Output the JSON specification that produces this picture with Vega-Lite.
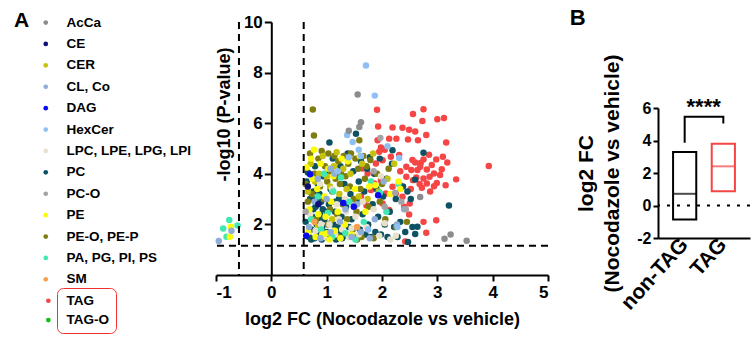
{
  "$schema": "https://vega.github.io/schema/vega-lite/v6.json",
  "padding": {"left": 14, "top": 7, "right": 2, "bottom": 2},
  "config": {
    "view": {"stroke": null},
    "font": "Liberation Sans",
    "axis": {"grid": false, "domainColor": "black", "domainWidth": 2, "tickColor": "black", "tickWidth": 2, "labelColor": "black", "titleColor": "black", "labelFont": "Liberation Sans", "titleFont": "Liberation Sans", "labelFontWeight": "bold", "titleFontWeight": "bold", "labelOverlap": false},
    "axisY": {"labelOverlap": false}
  },
  "datasets": {
    "lipids": [
      {"c":"TAG","x":1.91,"y":6.53},{"c":"TAG","x":2.56,"y":6.36},{"c":"TAG","x":2.75,"y":6.55},{"c":"TAG","x":2.73,"y":6.09},{"c":"TAG","x":3.0,"y":6.16},{"c":"TAG","x":3.12,"y":6.21},{"c":"TAG","x":1.93,"y":5.87},{"c":"TAG","x":2.19,"y":5.83},{"c":"TAG","x":2.37,"y":5.82},{"c":"TAG","x":2.49,"y":5.74},{"c":"TAG","x":2.6,"y":5.67},{"c":"TAG","x":2.8,"y":5.53},{"c":"TAG","x":3.16,"y":5.24},{"c":"TAG","x":2.26,"y":5.39},{"c":"TAG","x":2.47,"y":5.36},{"c":"TAG","x":1.92,"y":5.33},{"c":"TAG","x":2.13,"y":5.39},{"c":"TAG","x":2.65,"y":5.33},{"c":"TAG","x":1.98,"y":5.04},{"c":"TAG","x":1.95,"y":4.87},
      {"c":"TAG","x":3.1,"y":4.67},{"c":"TAG","x":2.98,"y":4.57},{"c":"TAG","x":2.75,"y":4.57},{"c":"TAG","x":2.7,"y":4.43},{"c":"TAG","x":2.6,"y":4.45},{"c":"TAG","x":2.64,"y":4.15},{"c":"TAG","x":2.81,"y":4.17},{"c":"TAG","x":2.86,"y":3.88},{"c":"TAG","x":2.94,"y":4.01},{"c":"TAG","x":3.08,"y":4.18},{"c":"TAG","x":2.99,"y":3.64},{"c":"TAG","x":2.94,"y":3.51},{"c":"TAG","x":2.72,"y":3.45},{"c":"TAG","x":2.81,"y":3.62},{"c":"TAG","x":2.62,"y":3.85},{"c":"TAG","x":2.75,"y":3.81},{"c":"TAG","x":2.69,"y":4.28},{"c":"TAG","x":3.93,"y":4.31},{"c":"TAG","x":3.34,"y":3.78},{"c":"TAG","x":2.98,"y":2.16},{"c":"TAG","x":2.75,"y":2.1},{"c":"TAG","x":2.8,"y":1.67},{"c":"TAG","x":2.42,"y":1.32},{"c":"TAG","x":2.49,"y":2.39},
      {"c":"TAG","x":1.89,"y":4.41},{"c":"TAG","x":2.01,"y":4.54},{"c":"TAG","x":2.16,"y":4.67},{"c":"TAG","x":2.31,"y":4.74},{"c":"TAG","x":2.44,"y":4.28},{"c":"TAG","x":2.53,"y":4.15},{"c":"TAG","x":2.44,"y":3.88},{"c":"TAG","x":2.56,"y":3.75},{"c":"TAG","x":2.31,"y":3.62},{"c":"TAG","x":2.19,"y":3.49},{"c":"TAG","x":2.07,"y":3.22},{"c":"TAG","x":2.25,"y":3.22},{"c":"TAG","x":2.37,"y":3.09},{"c":"TAG","x":2.5,"y":2.83},{"c":"TAG","x":2.01,"y":2.83},{"c":"TAG","x":2.13,"y":2.57},{"c":"TAG","x":1.86,"y":3.62},{"c":"TAG","x":1.8,"y":3.36},{"c":"TAG","x":1.98,"y":3.75},{"c":"TAG","x":1.74,"y":4.01},{"c":"TAG","x":1.65,"y":4.21},{"c":"TAG","x":2.05,"y":4.95},{"c":"TAG","x":2.33,"y":4.1},{"c":"TAG","x":2.9,"y":4.35},{"c":"TAG","x":3.05,"y":3.95},{"c":"TAG","x":2.68,"y":3.6},{"c":"TAG","x":2.52,"y":3.4},{"c":"TAG","x":2.87,"y":3.3},{"c":"TAG","x":1.62,"y":3.1},{"c":"TAG","x":1.72,"y":2.75},{"c":"TAG","x":2.4,"y":2.7},{"c":"TAG","x":2.55,"y":4.55},{"c":"TAG","x":2.85,"y":4.75},{"c":"TAG","x":3.18,"y":4.45},{"c":"TAG","x":3.15,"y":3.55},
      {"c":"PC","x":0.62,"y":2.1},{"c":"PC","x":0.65,"y":2.5},{"c":"PC","x":0.68,"y":1.5},{"c":"PC","x":0.7,"y":3.0},{"c":"PC","x":0.72,"y":1.8},{"c":"PC","x":0.74,"y":2.3},{"c":"PC","x":0.76,"y":3.3},{"c":"PC","x":0.78,"y":1.45},{"c":"PC","x":0.8,"y":2.7},{"c":"PC","x":0.82,"y":2.0},{"c":"PC","x":0.84,"y":3.6},{"c":"PC","x":0.86,"y":1.6},{"c":"PC","x":0.88,"y":2.4},{"c":"PC","x":0.9,"y":2.9},{"c":"PC","x":0.92,"y":1.9},{"c":"PC","x":0.94,"y":3.9},{"c":"PC","x":0.96,"y":2.2},{"c":"PC","x":0.98,"y":1.5},{"c":"PC","x":0.64,"y":3.7},{"c":"PC","x":0.66,"y":4.05},{"c":"PC","x":0.79,"y":4.3},{"c":"PC","x":0.87,"y":3.2},{"c":"PC","x":0.93,"y":2.6},{"c":"PC","x":0.99,"y":4.0},
      {"c":"PC","x":1.02,"y":1.7},{"c":"PC","x":1.04,"y":2.8},{"c":"PC","x":1.05,"y":5.24},{"c":"PC","x":1.07,"y":3.4},{"c":"PC","x":1.09,"y":2.1},{"c":"PC","x":1.11,"y":4.6},{"c":"PC","x":1.13,"y":1.5},{"c":"PC","x":1.15,"y":2.5},{"c":"PC","x":1.18,"y":3.9},{"c":"PC","x":1.2,"y":1.9},{"c":"PC","x":1.22,"y":3.0},{"c":"PC","x":1.25,"y":4.3},{"c":"PC","x":1.27,"y":2.3},{"c":"PC","x":1.3,"y":1.6},{"c":"PC","x":1.32,"y":3.6},{"c":"PC","x":1.35,"y":2.7},{"c":"PC","x":1.38,"y":4.8},{"c":"PC","x":1.4,"y":1.9},{"c":"PC","x":1.43,"y":3.2},{"c":"PC","x":1.45,"y":2.2},{"c":"PC","x":1.48,"y":4.1},{"c":"PC","x":1.5,"y":1.5},{"c":"PC","x":1.53,"y":5.58},{"c":"PC","x":1.55,"y":2.9},{"c":"PC","x":1.58,"y":3.7},{"c":"PC","x":1.6,"y":1.8},{"c":"PC","x":1.12,"y":2.0},{"c":"PC","x":1.17,"y":1.4},{"c":"PC","x":1.28,"y":1.45},{"c":"PC","x":1.36,"y":1.55},
      {"c":"PC","x":1.62,"y":4.5},{"c":"PC","x":1.65,"y":2.4},{"c":"PC","x":1.68,"y":3.3},{"c":"PC","x":1.7,"y":1.6},{"c":"PC","x":1.73,"y":4.2},{"c":"PC","x":1.75,"y":2.0},{"c":"PC","x":1.78,"y":4.65},{"c":"PC","x":1.8,"y":1.5},{"c":"PC","x":1.83,"y":2.8},{"c":"PC","x":1.86,"y":4.0},{"c":"PC","x":1.88,"y":1.7},{"c":"PC","x":1.9,"y":3.4},{"c":"PC","x":1.93,"y":2.3},{"c":"PC","x":1.96,"y":4.6},{"c":"PC","x":1.98,"y":1.6},{"c":"PC","x":2.02,"y":3.1},{"c":"PC","x":2.05,"y":2.0},{"c":"PC","x":2.08,"y":3.8},{"c":"PC","x":2.1,"y":1.5},{"c":"PC","x":2.14,"y":2.5},{"c":"PC","x":2.18,"y":4.4},{"c":"PC","x":2.19,"y":4.93},{"c":"PC","x":2.22,"y":1.9},{"c":"PC","x":2.25,"y":3.0},{"c":"PC","x":2.28,"y":1.5},
      {"c":"PC","x":2.33,"y":2.1},{"c":"PC","x":2.38,"y":3.5},{"c":"PC","x":2.42,"y":1.7},{"c":"PC","x":2.47,"y":1.3},{"c":"PC","x":2.52,"y":3.0},{"c":"PC","x":2.55,"y":1.9},{"c":"PC","x":2.6,"y":1.62},{"c":"PC","x":2.64,"y":1.91},{"c":"PC","x":2.6,"y":3.77},{"c":"PC","x":2.75,"y":4.83},{"c":"PC","x":3.21,"y":2.75},{"c":"PC","x":2.46,"y":3.3},
      {"c":"PC","x":0.72,"y":1.4},{"c":"PC","x":0.95,"y":1.7},{"c":"PC","x":1.0,"y":2.5},{"c":"PC","x":0.85,"y":2.25},{"c":"PC","x":0.76,"y":2.6},{"c":"PC","x":1.06,"y":1.55},{"c":"PC","x":1.24,"y":1.75},{"c":"PC","x":0.91,"y":1.4},{"c":"PC","x":1.15,"y":2.9},{"c":"PC","x":0.81,"y":3.0},
      {"c":"PE-O, PE-P","x":0.75,"y":6.54},{"c":"PE-O, PE-P","x":0.77,"y":5.51},{"c":"PE-O, PE-P","x":0.62,"y":3.6},{"c":"PE-O, PE-P","x":0.66,"y":2.9},{"c":"PE-O, PE-P","x":0.7,"y":4.8},{"c":"PE-O, PE-P","x":0.73,"y":3.2},{"c":"PE-O, PE-P","x":0.78,"y":4.0},{"c":"PE-O, PE-P","x":0.81,"y":2.2},{"c":"PE-O, PE-P","x":0.85,"y":4.6},{"c":"PE-O, PE-P","x":0.88,"y":3.5},{"c":"PE-O, PE-P","x":0.91,"y":4.9},{"c":"PE-O, PE-P","x":0.95,"y":3.0},{"c":"PE-O, PE-P","x":0.97,"y":4.3},{"c":"PE-O, PE-P","x":1.01,"y":3.7},{"c":"PE-O, PE-P","x":1.03,"y":4.8},{"c":"PE-O, PE-P","x":1.06,"y":2.6},{"c":"PE-O, PE-P","x":1.08,"y":4.1},{"c":"PE-O, PE-P","x":1.1,"y":3.3},{"c":"PE-O, PE-P","x":1.14,"y":4.7},{"c":"PE-O, PE-P","x":1.16,"y":3.8},{"c":"PE-O, PE-P","x":1.19,"y":2.4},{"c":"PE-O, PE-P","x":1.21,"y":4.5},{"c":"PE-O, PE-P","x":1.24,"y":3.6},{"c":"PE-O, PE-P","x":1.26,"y":4.0},{"c":"PE-O, PE-P","x":1.29,"y":2.8},{"c":"PE-O, PE-P","x":1.31,"y":4.7},{"c":"PE-O, PE-P","x":1.34,"y":3.9},{"c":"PE-O, PE-P","x":1.37,"y":2.2},{"c":"PE-O, PE-P","x":1.39,"y":4.4},{"c":"PE-O, PE-P","x":1.42,"y":3.5},{"c":"PE-O, PE-P","x":1.44,"y":4.8},{"c":"PE-O, PE-P","x":1.47,"y":1.8},{"c":"PE-O, PE-P","x":1.49,"y":3.0},{"c":"PE-O, PE-P","x":1.52,"y":4.6},{"c":"PE-O, PE-P","x":1.54,"y":2.5},{"c":"PE-O, PE-P","x":1.57,"y":4.2},{"c":"PE-O, PE-P","x":1.59,"y":5.33},{"c":"PE-O, PE-P","x":1.61,"y":3.4},{"c":"PE-O, PE-P","x":1.63,"y":1.5},{"c":"PE-O, PE-P","x":1.66,"y":4.7},{"c":"PE-O, PE-P","x":1.69,"y":3.8},{"c":"PE-O, PE-P","x":1.72,"y":4.3},{"c":"PE-O, PE-P","x":1.76,"y":2.7},{"c":"PE-O, PE-P","x":1.79,"y":4.55},{"c":"PE-O, PE-P","x":1.85,"y":1.45},{"c":"PE-O, PE-P","x":1.91,"y":4.0},{"c":"PE-O, PE-P","x":1.96,"y":2.9},{"c":"PE-O, PE-P","x":2.0,"y":3.6},{"c":"PE-O, PE-P","x":2.06,"y":2.2},{"c":"PE-O, PE-P","x":2.12,"y":4.2},{"c":"PE-O, PE-P","x":2.25,"y":1.9},{"c":"PE-O, PE-P","x":2.45,"y":2.1},{"c":"PE-O, PE-P","x":1.55,"y":1.4},{"c":"PE-O, PE-P","x":1.23,"y":1.5},{"c":"PE-O, PE-P","x":1.02,"y":2.0},
      {"c":"CER","x":0.66,"y":3.3},{"c":"CER","x":0.71,"y":4.4},{"c":"CER","x":0.79,"y":3.7},{"c":"CER","x":0.86,"y":4.0},{"c":"CER","x":0.93,"y":4.7},{"c":"CER","x":1.0,"y":3.9},{"c":"CER","x":1.06,"y":3.5},{"c":"CER","x":1.13,"y":4.3},{"c":"CER","x":1.18,"y":4.85},{"c":"CER","x":1.23,"y":3.2},{"c":"CER","x":1.3,"y":4.2},{"c":"CER","x":1.36,"y":3.4},{"c":"CER","x":1.43,"y":4.0},{"c":"CER","x":1.5,"y":2.7},{"c":"CER","x":1.58,"y":3.1},{"c":"CER","x":1.64,"y":4.4},{"c":"CER","x":1.74,"y":3.0},{"c":"CER","x":1.84,"y":4.8},{"c":"CER","x":1.94,"y":3.3},{"c":"CER","x":2.1,"y":3.8},{"c":"CER","x":2.22,"y":4.4},{"c":"CER","x":1.1,"y":2.2},{"c":"CER","x":0.84,"y":1.9},
      {"c":"LPC, LPE, LPG, LPI","x":0.7,"y":2.4},{"c":"LPC, LPE, LPG, LPI","x":0.8,"y":1.75},{"c":"LPC, LPE, LPG, LPI","x":0.88,"y":3.6},{"c":"LPC, LPE, LPG, LPI","x":0.95,"y":1.5},{"c":"LPC, LPE, LPG, LPI","x":1.05,"y":2.0},{"c":"LPC, LPE, LPG, LPI","x":1.1,"y":3.4},{"c":"LPC, LPE, LPG, LPI","x":1.15,"y":1.6},{"c":"LPC, LPE, LPG, LPI","x":1.22,"y":2.2},{"c":"LPC, LPE, LPG, LPI","x":1.28,"y":1.8},{"c":"LPC, LPE, LPG, LPI","x":1.33,"y":3.0},{"c":"LPC, LPE, LPG, LPI","x":1.4,"y":1.5},{"c":"LPC, LPE, LPG, LPI","x":1.45,"y":1.85},{"c":"LPC, LPE, LPG, LPI","x":1.52,"y":2.3},{"c":"LPC, LPE, LPG, LPI","x":1.58,"y":1.6},{"c":"LPC, LPE, LPG, LPI","x":1.65,"y":2.9},{"c":"LPC, LPE, LPG, LPI","x":1.72,"y":1.9},{"c":"LPC, LPE, LPG, LPI","x":1.85,"y":2.6},{"c":"LPC, LPE, LPG, LPI","x":1.95,"y":1.55},{"c":"LPC, LPE, LPG, LPI","x":2.05,"y":2.05},{"c":"LPC, LPE, LPG, LPI","x":2.15,"y":1.4},{"c":"LPC, LPE, LPG, LPI","x":2.25,"y":1.55},{"c":"LPC, LPE, LPG, LPI","x":1.98,"y":3.9},{"c":"LPC, LPE, LPG, LPI","x":1.18,"y":2.8},{"c":"LPC, LPE, LPG, LPI","x":1.35,"y":2.5},{"c":"LPC, LPE, LPG, LPI","x":0.9,"y":2.0},
      {"c":"PA, PG, PI, PS","x":-0.76,"y":2.17},{"c":"PA, PG, PI, PS","x":-0.87,"y":1.84},{"c":"PA, PG, PI, PS","x":-0.61,"y":1.96},{"c":"PA, PG, PI, PS","x":-0.81,"y":1.51},{"c":"PA, PG, PI, PS","x":0.72,"y":2.2},{"c":"PA, PG, PI, PS","x":0.84,"y":3.1},{"c":"PA, PG, PI, PS","x":0.9,"y":1.8},{"c":"PA, PG, PI, PS","x":1.02,"y":2.45},{"c":"PA, PG, PI, PS","x":1.1,"y":1.5},{"c":"PA, PG, PI, PS","x":1.26,"y":3.85},{"c":"PA, PG, PI, PS","x":1.34,"y":1.65},{"c":"PA, PG, PI, PS","x":1.41,"y":2.9},{"c":"PA, PG, PI, PS","x":1.52,"y":1.4},{"c":"PA, PG, PI, PS","x":1.67,"y":2.1},{"c":"PA, PG, PI, PS","x":1.8,"y":3.7},{"c":"PA, PG, PI, PS","x":1.96,"y":3.25},{"c":"PA, PG, PI, PS","x":2.08,"y":2.5},{"c":"PA, PG, PI, PS","x":2.3,"y":3.6},{"c":"PA, PG, PI, PS","x":1.12,"y":3.3},{"c":"PA, PG, PI, PS","x":0.95,"y":4.0},
      {"c":"PE","x":-0.73,"y":1.91},{"c":"PE","x":-0.75,"y":1.51},{"c":"PE","x":0.64,"y":4.25},{"c":"PE","x":0.67,"y":1.7},{"c":"PE","x":0.69,"y":2.6},{"c":"PE","x":0.72,"y":4.6},{"c":"PE","x":0.74,"y":3.8},{"c":"PE","x":0.77,"y":4.95},{"c":"PE","x":0.8,"y":1.5},{"c":"PE","x":0.83,"y":3.4},{"c":"PE","x":0.85,"y":2.4},{"c":"PE","x":0.89,"y":4.4},{"c":"PE","x":0.92,"y":1.6},{"c":"PE","x":0.96,"y":3.1},{"c":"PE","x":1.0,"y":1.65},{"c":"PE","x":1.03,"y":4.2},{"c":"PE","x":1.05,"y":1.4},{"c":"PE","x":1.08,"y":2.9},{"c":"PE","x":1.12,"y":3.9},{"c":"PE","x":1.15,"y":1.75},{"c":"PE","x":1.2,"y":2.5},{"c":"PE","x":1.27,"y":4.6},{"c":"PE","x":1.33,"y":2.0},{"c":"PE","x":1.38,"y":4.5},{"c":"PE","x":1.45,"y":1.6},{"c":"PE","x":1.51,"y":3.4},{"c":"PE","x":1.6,"y":4.7},{"c":"PE","x":1.7,"y":2.5},{"c":"PE","x":1.77,"y":3.5},{"c":"PE","x":1.88,"y":3.55},{"c":"PE","x":2.15,"y":3.2},{"c":"PE","x":2.3,"y":3.7},{"c":"PE","x":2.33,"y":3.4},{"c":"PE","x":1.25,"y":1.45},{"c":"PE","x":0.98,"y":2.3},
      {"c":"CL, Co","x":-0.95,"y":1.34},{"c":"CL, Co","x":-0.72,"y":1.75},{"c":"CL, Co","x":0.68,"y":1.9},{"c":"CL, Co","x":0.78,"y":2.9},{"c":"CL, Co","x":0.89,"y":1.45},{"c":"CL, Co","x":1.0,"y":3.0},{"c":"CL, Co","x":1.07,"y":1.7},{"c":"CL, Co","x":1.14,"y":4.0},{"c":"CL, Co","x":1.24,"y":2.1},{"c":"CL, Co","x":1.34,"y":2.6},{"c":"CL, Co","x":1.45,"y":1.5},{"c":"CL, Co","x":1.55,"y":2.8},{"c":"CL, Co","x":1.62,"y":1.7},{"c":"CL, Co","x":1.78,"y":1.45},{"c":"CL, Co","x":1.87,"y":2.2},{"c":"CL, Co","x":2.03,"y":3.7},{"c":"CL, Co","x":2.27,"y":2.0},{"c":"CL, Co","x":2.4,"y":2.6},{"c":"CL, Co","x":1.07,"y":4.2},{"c":"CL, Co","x":0.84,"y":3.8},
      {"c":"HexCer","x":1.71,"y":8.28},{"c":"HexCer","x":1.87,"y":7.09},{"c":"HexCer","x":1.37,"y":5.53},{"c":"HexCer","x":1.47,"y":5.26},{"c":"HexCer","x":2.1,"y":5.09},{"c":"HexCer","x":1.58,"y":4.95},{"c":"HexCer","x":2.31,"y":4.62},{"c":"HexCer","x":1.2,"y":4.1},{"c":"HexCer","x":1.62,"y":4.7},{"c":"HexCer","x":2.28,"y":1.9},{"c":"HexCer","x":1.4,"y":4.65},{"c":"HexCer","x":1.75,"y":1.8},
      {"c":"AcCa","x":1.56,"y":7.13},{"c":"AcCa","x":1.4,"y":5.7},{"c":"AcCa","x":3.13,"y":1.43},{"c":"AcCa","x":3.24,"y":1.6},{"c":"AcCa","x":3.53,"y":1.35},{"c":"AcCa","x":2.69,"y":3.08},{"c":"AcCa","x":1.62,"y":6.04},{"c":"AcCa","x":1.59,"y":5.85},
      {"c":"PC-O","x":2.24,"y":3.25},{"c":"PC-O","x":0.62,"y":2.5},{"c":"PC-O","x":1.85,"y":4.1},{"c":"PC-O","x":2.05,"y":2.7},{"c":"PC-O","x":1.5,"y":2.75},{"c":"PC-O","x":2.35,"y":2.9},{"c":"PC-O","x":1.97,"y":5.42},{"c":"PC-O","x":2.43,"y":2.6},
      {"c":"DAG","x":0.7,"y":3.98},{"c":"DAG","x":0.63,"y":1.55},{"c":"DAG","x":1.93,"y":3.15},{"c":"DAG","x":1.49,"y":2.7},{"c":"DAG","x":1.3,"y":2.85},
      {"c":"CE","x":0.66,"y":3.5},{"c":"CE","x":0.85,"y":2.8},
      {"c":"SM","x":0.78,"y":2.1},{"c":"SM","x":1.55,"y":1.9}
    ],
    "summary": [
      {"group":"non-TAG","low":-0.86,"high":3.29,"mid":0.72},
      {"group":"TAG","low":0.88,"high":3.8,"mid":2.41}
    ],
    "bracket": [
      {"group":"non-TAG","v":3.86,"o":1},
      {"group":"non-TAG","v":5.46,"o":2},
      {"group":"TAG","v":5.46,"o":3},
      {"group":"TAG","v":5.05,"o":4}
    ]
  },
  "spacing": 20,
  "hconcat": [
    {
      "width": 332,
      "height": 253,
      "layer": [
        {
          "data": {"name": "lipids"},
          "transform": [{"filter": "datum.c === 'TAG' || datum.c === 'TAG-O'"}],
          "mark": {"type": "circle", "size": 42, "opacity": 1},
          "encoding": {
            "x": {"field": "x", "type": "quantitative", "title": "log2 FC (Nocodazole vs vehicle)", "scale": {"domain": [-1, 5], "nice": false, "zero": false},
              "axis": {"values": [-1, 0, 1, 2, 3, 4, 5], "labelExpr": "'' + datum.value", "labelFontSize": 17, "titleFontSize": 18, "tickSize": 6, "labelPadding": 3, "titlePadding": 10}},
            "y": {"field": "y", "type": "quantitative", "title": "-log10 (P-value)", "scale": {"domain": [0, 10], "nice": false},
              "axis": {"values": [2, 4, 6, 8, 10], "offset": -55.3, "labelFontSize": 17, "titleFontSize": 18, "tickSize": 7, "labelPadding": 2, "titlePadding": 10, "titleY": 92}},
            "color": {"field": "c", "type": "nominal",
              "scale": {"domain": ["TAG", "TAG-O"], "range": ["#f54545", "#12c012"]},
              "legend": {"orient": "none", "legendX": -159, "legendY": 266, "title": null, "strokeColor": "#f03030", "cornerRadius": 6, "padding": 6,
                "symbolOffset": -21.4, "labelOffset": 11.5, "symbolType": "circle", "symbolSize": 22, "symbolStrokeWidth": 0,
                "labelFontSize": 13.5, "labelFontWeight": "bold", "labelColor": "black", "labelFont": "Liberation Sans", "rowPadding": 4.3}}
          }
        },
        {
          "data": {"name": "lipids"},
          "transform": [{"filter": "datum.c !== 'TAG' && datum.c !== 'TAG-O'"}],
          "mark": {"type": "circle", "size": 42, "opacity": 1},
          "encoding": {
            "x": {"field": "x", "type": "quantitative", "title": "log2 FC (Nocodazole vs vehicle)"},
            "y": {"field": "y", "type": "quantitative", "title": "-log10 (P-value)"},
            "color": {"field": "c", "type": "nominal",
              "scale": {"domain": ["AcCa", "CE", "CER", "CL, Co", "DAG", "HexCer", "LPC, LPE, LPG, LPI", "PC", "PC-O", "PE", "PE-O, PE-P", "PA, PG, PI, PS", "SM"],
                "range": ["#8c8c8c", "#10107a", "#c5c10c", "#8fadd6", "#0a0af0", "#8ec0f5", "#e7e1cb", "#0c5262", "#a3a3a8", "#fafa0a", "#7f7d10", "#42e8b4", "#f7a050"]},
              "legend": {"orient": "none", "legendX": -202, "legendY": -6.2, "title": "A", "titleOrient": "left", "titleFontSize": 21, "titleFontWeight": "bold", "titleColor": "black", "titleFont": "Liberation Sans", "titlePadding": 12, "titleBaseline": "line-top", "titleLineHeight": 10.4, "titleAnchor": "start",
                "padding": 0, "symbolType": "circle", "symbolSize": 22, "symbolStrokeWidth": 0, "symbolOffset": -3, "labelOffset": 14, "rowPadding": 6.4,
                "labelFontSize": 13.5, "labelFontWeight": "bold", "labelColor": "black", "labelFont": "Liberation Sans", "labelLimit": 300}}
          }
        },
        {
          "data": {"values": [{"x": -0.585}, {"x": 0.585}]},
          "mark": {"type": "rule", "strokeDash": [7, 5], "strokeWidth": 2, "color": "black"},
          "encoding": {"x": {"field": "x", "type": "quantitative", "title": "log2 FC (Nocodazole vs vehicle)"}}
        },
        {
          "data": {"values": [{"y": 1.16}]},
          "mark": {"type": "rule", "strokeDash": [7, 5], "strokeWidth": 2, "color": "black"},
          "encoding": {"y": {"field": "y", "type": "quantitative", "title": "-log10 (P-value)"}}
        }
      ],
      "resolve": {"scale": {"color": "independent"}}
    },
    {
      "title": {"text": "B", "anchor": "start", "frame": "bounds", "fontSize": 22, "fontWeight": "bold", "font": "Liberation Sans", "color": "black", "dx": -6, "offset": -8},
      "spacing": 30,
      "vconcat": [
        {
          "width": 92,
          "height": 1,
          "data": {"values": []},
          "mark": "point"
        },
        {
          "width": 92,
          "height": 130,
          "layer": [
            {
              "data": {"name": "summary"},
              "mark": {"type": "bar", "fill": "white", "fillOpacity": 0, "strokeWidth": 2},
              "encoding": {
                "x": {"field": "group", "type": "nominal", "sort": ["non-TAG", "TAG"], "title": null,
                  "scale": {"paddingInner": 0.4, "paddingOuter": 0.39},
                  "axis": {"labelAngle": -48, "ticks": false, "labelFontSize": 21, "labelPadding": 3}},
                "y": {"field": "low", "type": "quantitative", "title": ["log2 FC", "(Nocodazole vs vehicle)"],
                  "scale": {"domain": [-2, 6], "nice": false},
                  "axis": {"values": [-2, 0, 2, 4, 6], "tickCount": 5, "labelOverlap": false, "labelSeparation": 0, "labelExpr": "datum.value < 0 ? '-' + abs(datum.value) : '' + datum.value", "labelFontSize": 16, "titleFontSize": 21, "titleLineHeight": 26, "tickSize": 5, "labelPadding": 2, "titlePadding": 14}},
                "y2": {"field": "high"},
                "stroke": {"field": "group", "type": "nominal", "scale": {"domain": ["non-TAG", "TAG"], "range": ["#000000", "#f54545"]}, "legend": null}
              }
            },
            {
              "data": {"values": [{"low": 0}]},
              "mark": {"type": "rule", "strokeDash": [3, 7], "strokeWidth": 2, "color": "black"},
              "encoding": {"y": {"field": "low", "type": "quantitative", "title": ["log2 FC", "(Nocodazole vs vehicle)"]}}
            },
            {
              "data": {"name": "summary"},
              "mark": {"type": "tick", "thickness": 2, "size": 23},
              "encoding": {
                "x": {"field": "group", "type": "nominal", "sort": ["non-TAG", "TAG"], "title": null},
                "y": {"field": "mid", "type": "quantitative", "title": ["log2 FC", "(Nocodazole vs vehicle)"]},
                "color": {"field": "group", "type": "nominal", "scale": {"domain": ["non-TAG", "TAG"], "range": ["#000000", "#f54545"]}, "legend": null}
              }
            },
            {
              "data": {"name": "bracket"},
              "mark": {"type": "line", "strokeWidth": 2, "color": "black"},
              "encoding": {
                "x": {"field": "group", "type": "nominal", "sort": ["non-TAG", "TAG"], "title": null},
                "y": {"field": "v", "type": "quantitative", "title": ["log2 FC", "(Nocodazole vs vehicle)"]},
                "order": {"field": "o", "type": "quantitative"}
              }
            },
            {
              "data": {"values": [{"group": "non-TAG", "v": 5.66, "t": "****"}]},
              "mark": {"type": "text", "dx": 19, "fontSize": 22, "fontWeight": "bold", "baseline": "alphabetic", "align": "center", "color": "black"},
              "encoding": {
                "x": {"field": "group", "type": "nominal", "sort": ["non-TAG", "TAG"], "title": null},
                "y": {"field": "v", "type": "quantitative", "title": ["log2 FC", "(Nocodazole vs vehicle)"]},
                "text": {"field": "t"}
              }
            }
          ]
        }
      ]
    }
  ]
}
